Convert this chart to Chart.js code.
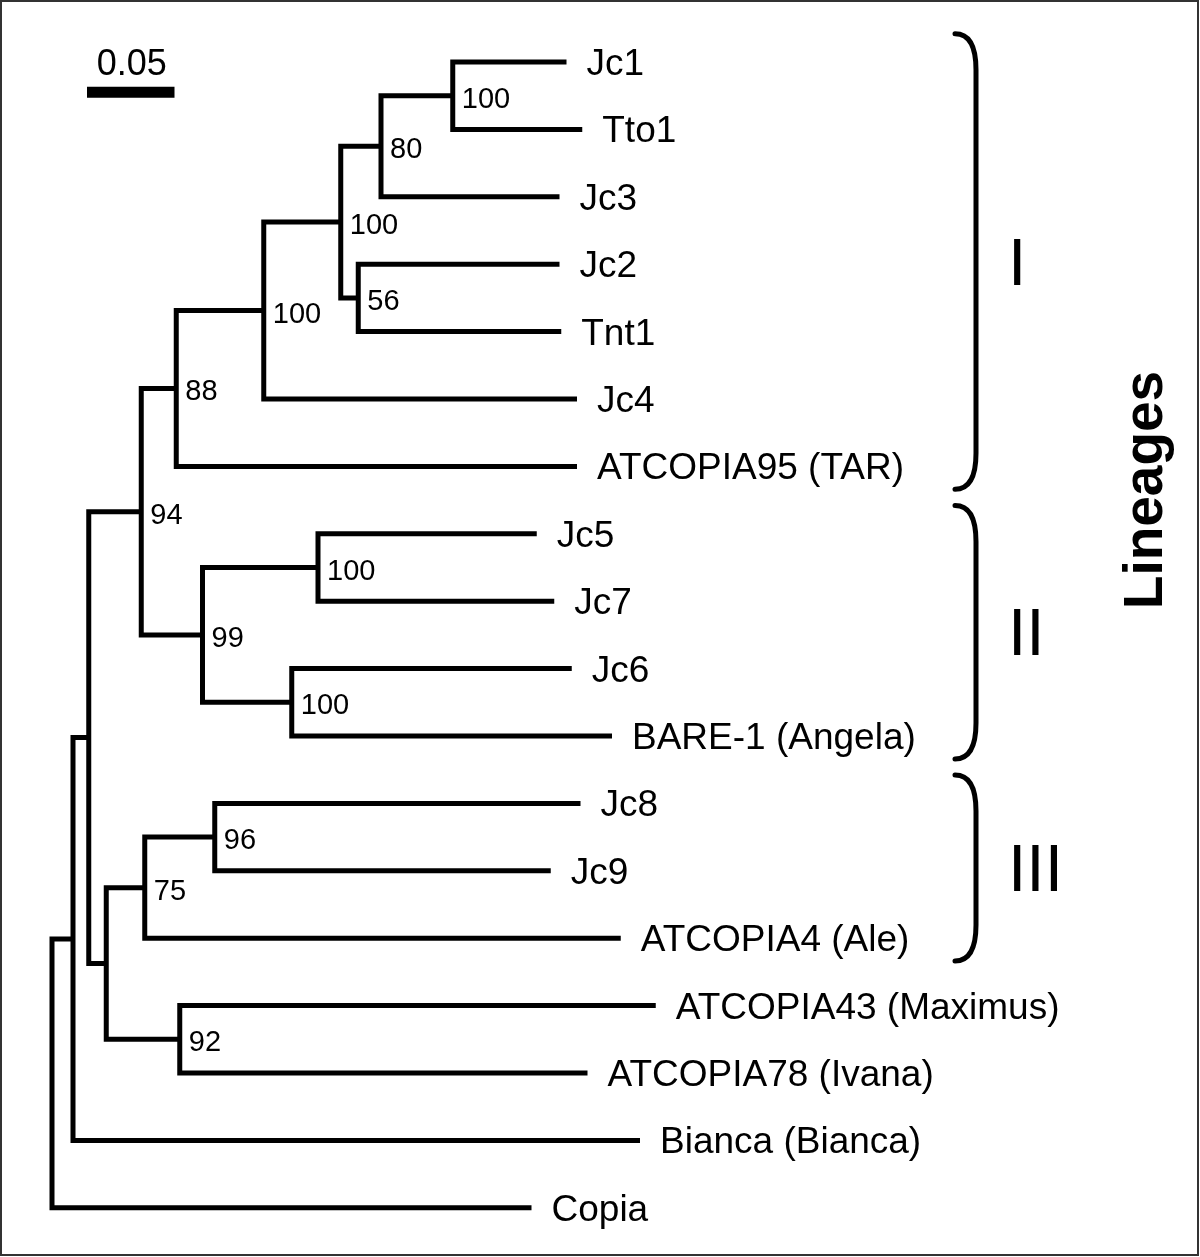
<!DOCTYPE html>
<html>
<head>
<meta charset="utf-8">
<title>Copia-like retrotransposon lineages</title>
<script src="https://cdn.jsdelivr.net/npm/chart.js@4.4.1/dist/chart.umd.min.js"></script>
<style>
  html, body { margin: 0; padding: 0; background: #fff; overflow: hidden; }
  #wrap { position: relative; width: 1200px; height: 1257px; }
</style>
</head>
<body>
<div id="wrap"><canvas id="tree"></canvas></div>
<script>
// leaves, top to bottom, with their distance from the root
const leafNames = ['Jc1', 'Tto1', 'Jc3', 'Jc2', 'Tnt1', 'Jc4', 'ATCOPIA95 (TAR)',
    'Jc5', 'Jc7', 'Jc6', 'BARE-1 (Angela)', 'Jc8', 'Jc9', 'ATCOPIA4 (Ale)',
    'ATCOPIA43 (Maximus)', 'ATCOPIA78 (Ivana)', 'Bianca (Bianca)', 'Copia'];
const leafDepth = [0.294, 0.303, 0.290, 0.290, 0.291, 0.300, 0.300,
    0.277, 0.287, 0.297, 0.320, 0.302, 0.285, 0.325,
    0.345, 0.306, 0.336, 0.274];

// internal nodes (children listed before parents), distance from root, bootstrap
const nodeIds = ['A', 'B', 'C', 'D', 'E', 'F', 'G', 'H', 'K', 'M', 'N', 'P', 'Q', 'R', 'S', 'T', 'root'];
const nodeChildren = [
    ['Jc1', 'Tto1'], ['A', 'Jc3'], ['Jc2', 'Tnt1'], ['B', 'C'], ['D', 'Jc4'],
    ['E', 'ATCOPIA95 (TAR)'], ['Jc5', 'Jc7'], ['Jc6', 'BARE-1 (Angela)'], ['G', 'H'],
    ['F', 'K'], ['Jc8', 'Jc9'], ['N', 'ATCOPIA4 (Ale)'],
    ['ATCOPIA43 (Maximus)', 'ATCOPIA78 (Ivana)'], ['P', 'Q'], ['M', 'R'],
    ['S', 'Bianca (Bianca)'], ['T', 'Copia']
];
const nodeDepth = [0.229, 0.188, 0.175, 0.165, 0.121, 0.071, 0.152, 0.137, 0.086,
    0.051, 0.093, 0.053, 0.073, 0.031, 0.021, 0.012, 0.0];
const nodeSupport = ['100', '80', '56', '100', '100', '88', '100', '100', '99',
    '94', '96', '75', '92', '', '', '', ''];

// lineage brackets
const lineageLabels = ['I', 'II', 'III'];
const lineageFirst = ['Jc1', 'Jc5', 'Jc8'];
const lineageLast = ['ATCOPIA95 (TAR)', 'BARE-1 (Angela)', 'ATCOPIA4 (Ale)'];

const scaleBarLength = 0.05;

// tree layout: leaves on integer rows, nodes in the middle of their children
const pos = {};
leafNames.forEach((name, i) => { pos[name] = { x: leafDepth[i], y: i }; });
nodeIds.forEach((id, i) => {
    const [a, b] = nodeChildren[i];
    pos[id] = { x: nodeDepth[i], y: (pos[a].y + pos[b].y) / 2 };
});

const datasets = nodeIds.map((id, i) => {
    const a = pos[nodeChildren[i][0]];
    const b = pos[nodeChildren[i][1]];
    const n = pos[id];
    return {
        data: [{ x: a.x, y: a.y }, { x: n.x, y: a.y }, { x: n.x, y: b.y }, { x: b.x, y: b.y }],
        borderColor: '#000',
        borderWidth: 5,
        borderJoinStyle: 'miter',
        borderCapStyle: 'butt',
        showLine: true,
        pointRadius: 0,
        fill: false
    };
});

// scale bar
const barStart = 0.02, barRow = 0.45;
datasets.push({
    data: [{ x: barStart, y: barRow }, { x: barStart + scaleBarLength, y: barRow }],
    borderColor: '#000',
    borderWidth: 11,
    borderCapStyle: 'butt',
    showLine: true,
    pointRadius: 0,
    fill: false
});

const FONT = '"Liberation Sans", Arial, sans-serif';

const treeText = {
    id: 'treeText',
    afterDatasetsDraw(chart) {
        const ctx = chart.ctx;
        const xs = chart.scales.x, ys = chart.scales.y;
        ctx.save();
        ctx.fillStyle = '#000';
        ctx.textBaseline = 'alphabetic';

        // leaf names
        ctx.font = '37px ' + FONT;
        ctx.textAlign = 'left';
        leafNames.forEach((name, i) => {
            ctx.fillText(name, xs.getPixelForValue(leafDepth[i]) + 20, ys.getPixelForValue(i) + 13);
        });

        // bootstrap values
        ctx.font = '29px ' + FONT;
        nodeIds.forEach((id, i) => {
            if (!nodeSupport[i]) return;
            ctx.fillText(nodeSupport[i], xs.getPixelForValue(pos[id].x) + 9, ys.getPixelForValue(pos[id].y) + 12);
        });

        // scale label
        ctx.font = '36px ' + FONT;
        ctx.textAlign = 'center';
        const bx = (xs.getPixelForValue(barStart) + xs.getPixelForValue(barStart + scaleBarLength)) / 2;
        ctx.fillText(scaleBarLength.toFixed(2), bx + 1, ys.getPixelForValue(barRow) - 17);

        // brackets and lineage numerals
        ctx.strokeStyle = '#000';
        ctx.lineWidth = 5;
        ctx.lineCap = 'round';
        const bxv = xs.getPixelForValue(0.528);
        const hook = 21, r = 36;
        lineageLabels.forEach((lab, i) => {
            const top = ys.getPixelForValue(leafNames.indexOf(lineageFirst[i]) - 0.42);
            const bot = ys.getPixelForValue(leafNames.indexOf(lineageLast[i]) + 0.34);
            ctx.beginPath();
            ctx.moveTo(bxv - hook, top);
            ctx.quadraticCurveTo(bxv, top, bxv, top + r);
            ctx.lineTo(bxv, bot - r);
            ctx.quadraticCurveTo(bxv, bot, bxv - hook, bot);
            ctx.stroke();
            ctx.font = '66px ' + FONT;
            ctx.textAlign = 'left';
            ctx.fillText(lab, bxv + 32, (top + bot) / 2 + 23);
        });

        // axis title for the lineages
        ctx.translate(1162, 490);
        ctx.rotate(-Math.PI / 2);
        ctx.font = 'bold 55px ' + FONT;
        ctx.textAlign = 'center';
        ctx.fillText('Lineages', 0, 0);
        ctx.restore();

        // frame
        ctx.save();
        ctx.strokeStyle = '#333';
        ctx.lineWidth = 2;
        ctx.strokeRect(1, 1, chart.width - 3, chart.height - 3);
        ctx.restore();
    }
};

new Chart(document.getElementById('tree'), {
    type: 'scatter',
    data: { datasets: datasets },
    options: {
        responsive: true,
        maintainAspectRatio: false,
        animation: false,
        events: [],
        layout: { padding: 0 },
        plugins: { legend: { display: false }, tooltip: { enabled: false } },
        scales: {
            x: { type: 'linear', display: false, min: -52 / 1750, max: 1148 / 1750 },
            y: { type: 'linear', display: false, reverse: true, min: -62 / 67.4, max: 1195 / 67.4 }
        }
    },
    plugins: [treeText]
});
</script>
</body>
</html>
